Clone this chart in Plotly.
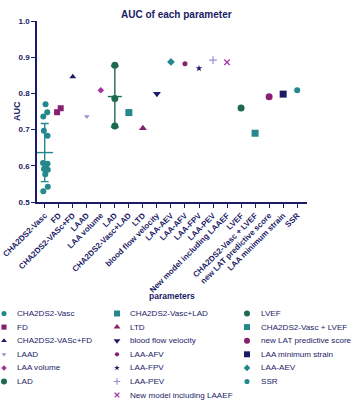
import numpy as np
import plotly.graph_objects as go

W, H = 353, 400

categories = ["CHA2DS2-Vasc", "FD", "CHA2DS2-VASc+FD", "LAAD", "LAA volume", "LAD",
              "CHA2DS2-Vasc+LAD", "LTD", "blood flow velocity", "LAA-AEV", "LAA-AFV",
              "LAA-FPV", "LAA-PEV", "New model including LAAEF", "LVEF",
              "CHA2DS2-Vasc + LVEF", "new LAT predictive score", "LAA minimum strain", "SSR"]

cha2ds2_vasc_auc = [0.770, 0.748, 0.736, 0.697, 0.683, 0.608, 0.606, 0.598, 0.591, 0.589, 0.577, 0.542, 0.530]
cha2ds2_vasc_jitter = [0.06, 0.18, -0.1, -0.06, 0.2, -0.12, 0.2, 0.06, -0.05, 0.22, 0.04, 0.22, -0.1]
fd_auc = [0.748, 0.759]
fd_jitter = [-0.12, 0.14]
lad_auc = [0.878, 0.786, 0.710]

single_names = ["CHA2DS2-VASc+FD", "LAAD", "LAA volume", "CHA2DS2-Vasc+LAD", "LTD",
                "blood flow velocity", "LAA-AEV", "LAA-AFV", "LAA-FPV", "LAA-PEV",
                "New model including LAAEF", "LVEF", "CHA2DS2-Vasc + LVEF",
                "new LAT predictive score", "LAA minimum strain", "SSR"]
single_auc = [0.846, 0.736, 0.809, 0.747, 0.704, 0.799, 0.887, 0.882, 0.869, 0.892,
              0.886, 0.760, 0.690, 0.791, 0.798, 0.809]

y_ticks = [0.5, 0.6, 0.7, 0.8, 0.9, 1.0]

NAVY = "#1b1b66"
TEAL = "#23898c"
GREEN = "#1d6b4c"
PURPLE = "#87206f"
LAV = "#9a90d2"
MAG = "#a2349c"

styles = {
    "CHA2DS2-Vasc": ("circle", TEAL, 6),
    "FD": ("square", PURPLE, 6),
    "CHA2DS2-VASc+FD": ("triangle-up", NAVY, 6),
    "LAAD": ("triangle-down", LAV, 5),
    "LAA volume": ("diamond", MAG, 5),
    "LAD": ("circle", GREEN, 7),
    "CHA2DS2-Vasc+LAD": ("square", TEAL, 7),
    "LTD": ("triangle-up", PURPLE, 7),
    "blood flow velocity": ("triangle-down", NAVY, 7),
    "LAA-AEV": ("diamond", TEAL, 6),
    "LAA-AFV": ("circle", PURPLE, 5),
    "LAA-FPV": ("star", NAVY, 5),
    "LAA-PEV": ("cross-thin-open", LAV, 5.5),
    "New model including LAAEF": ("x-thin-open", MAG, 5.5),
    "LVEF": ("circle", GREEN, 7),
    "CHA2DS2-Vasc + LVEF": ("square", TEAL, 7),
    "new LAT predictive score": ("circle", PURPLE, 7),
    "LAA minimum strain": ("square", NAVY, 7),
    "SSR": ("circle", TEAL, 6),
}

legend_cols = [
    ["CHA2DS2-Vasc", "FD", "CHA2DS2-VASc+FD", "LAAD", "LAA volume", "LAD"],
    ["CHA2DS2-Vasc+LAD", "LTD", "blood flow velocity", "LAA-AFV", "LAA-FPV", "LAA-PEV",
     "New model including LAAEF"],
    ["LVEF", "CHA2DS2-Vasc + LVEF", "new LAT predictive score", "LAA minimum strain",
     "LAA-AEV", "SSR"],
]

def mk(name, scale=1.0):
    sym, col, size = styles[name]
    m = dict(symbol=sym, color=col, size=size * scale)
    if sym.endswith("-open"):
        m["line"] = dict(color=col, width=1.2)
    else:
        m["line"] = dict(width=0)
    return m

fig = go.Figure()
idx = {c: i for i, c in enumerate(categories)}

def add_points(name, vals, jit=None):
    x = [idx[name] + (jit[k] if jit else 0) for k in range(len(vals))]
    fig.add_trace(go.Scatter(x=x, y=vals, mode="markers", marker=mk(name),
                             showlegend=False, cliponaxis=False, hoverinfo="y"))

def add_mean_sd(name, vals, color, w):
    m = float(np.mean(vals)); s = float(np.std(vals, ddof=1))
    fig.add_trace(go.Scatter(x=[idx[name]], y=[m], mode="markers",
                             marker=dict(symbol="line-ew-open", size=w, color=color,
                                         line=dict(color=color, width=1.4)),
                             error_y=dict(type="data", array=[s], visible=True, color=color,
                                          thickness=1.4, width=4),
                             showlegend=False, cliponaxis=False, hoverinfo="skip"))

add_mean_sd("CHA2DS2-Vasc", cha2ds2_vasc_auc, TEAL, 12)
add_points("CHA2DS2-Vasc", cha2ds2_vasc_auc, cha2ds2_vasc_jitter)
add_points("FD", fd_auc, fd_jitter)
add_mean_sd("LAD", lad_auc, GREEN, 10)
add_points("LAD", lad_auc)
for n, v in zip(single_names, single_auc):
    add_points(n, [v])

# legend drawn in a pixel overlay axis
row0, drow = 313.5, 13.6
mx = [4, 117, 247]
tx = [15, 128, 259]
for c, names in enumerate(legend_cols):
    for r, n in enumerate(names):
        y = row0 + r * drow
        fig.add_trace(go.Scatter(x=[mx[c]], y=[y], mode="markers", marker=mk(n, 0.85),
                                 xaxis="x2", yaxis="y2", showlegend=False, hoverinfo="skip",
                                 cliponaxis=False))
        fig.add_annotation(x=tx[c], y=y, xref="x2", yref="y2", text=n, showarrow=False,
                           xanchor="left", yanchor="middle",
                           font=dict(family="Liberation Sans, Arial", size=8.1, color=NAVY))

fig.add_annotation(x=172, y=296, xref="x2", yref="y2", text="parameters", showarrow=False,
                   xanchor="center", yanchor="middle",
                   font=dict(family="Liberation Sans, Arial", size=8.5, color=NAVY, weight="bold"))
fig.add_annotation(x=17, y=111, xref="x2", yref="y2", text="AUC", showarrow=False, textangle=-90,
                   xanchor="center", yanchor="middle",
                   font=dict(family="Liberation Sans, Arial", size=9, color=NAVY, weight="bold"))
fig.add_annotation(x=176, y=14, xref="x2", yref="y2", text="AUC of each parameter", showarrow=False,
                   xanchor="center", yanchor="middle",
                   font=dict(family="Liberation Sans, Arial", size=10, color=NAVY, weight="bold"))

fig.update_layout(
    width=W, height=H, margin=dict(l=0, r=0, t=0, b=0),
    paper_bgcolor="white", plot_bgcolor="rgba(0,0,0,0)",
    showlegend=False,
    xaxis=dict(domain=[37 / W, 307 / W], range=[-0.55, 18.7], tickmode="array",
               tickvals=list(range(len(categories))), ticktext=categories, tickangle=-45,
               ticks="outside", ticklen=4, tickwidth=1.2, tickcolor=NAVY,
               showline=True, linecolor=NAVY, linewidth=1.5, showgrid=False, zeroline=False,
               tickfont=dict(family="Liberation Sans, Arial", size=8, color=NAVY, weight="bold"),
               anchor="y", automargin=False),
    yaxis=dict(domain=[1 - 202 / H, 1 - 21 / H], range=[0.5, 1.0], tickmode="array",
               tickvals=y_ticks, ticktext=[f"{v:.1f}" for v in y_ticks],
               ticks="outside", ticklen=4, tickwidth=1.2, tickcolor=NAVY,
               showline=True, linecolor=NAVY, linewidth=1.5, showgrid=False, zeroline=False,
               tickfont=dict(family="Liberation Sans, Arial", size=8, color=NAVY, weight="bold"),
               anchor="x", automargin=False),
    xaxis2=dict(domain=[0, 1], range=[0, W], visible=False, anchor="y2", fixedrange=True),
    yaxis2=dict(domain=[0, 1], range=[H, 0], visible=False, anchor="x2", fixedrange=True),
)

fig.write_html("out.html", config={"displayModeBar": False},
               post_script="document.body.style.margin='0';document.body.style.overflow='hidden';")
